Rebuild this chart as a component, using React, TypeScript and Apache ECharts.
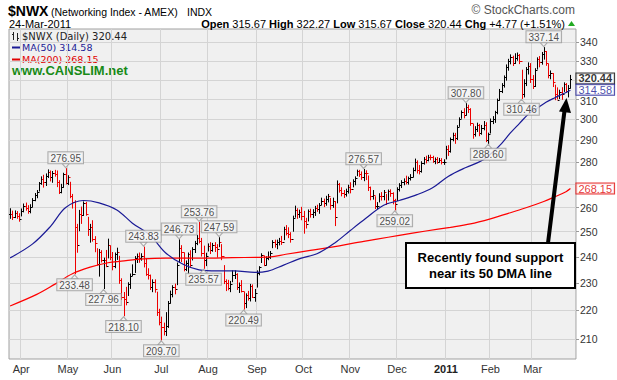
import React, { useEffect, useRef } from "react";
import * as echarts from "echarts";

// ---- data ----
const closes = [
  257.5, 256.0, 257.8, 256.6, 255.2, 258.5, 260.8, 259.9, 258.6, 260.4,
  263.2, 265.2, 266.5, 270.4, 272.5, 271.0, 273.8, 275.6, 273.4, 275.2,
  274.6, 271.0, 266.6, 268.9, 274.4, 270.6, 273.2, 265.0, 262.5, 252.0,
  244.5, 257.4, 257.0, 262.0, 257.5, 251.0, 251.9, 247.0, 245.4, 237.3,
  241.8, 238.7, 238.9, 236.6, 244.8, 240.0, 236.4, 241.0, 242.0, 231.0,
  224.8, 224.2, 222.9, 229.6, 232.8, 233.4, 239.7, 240.3, 239.5, 240.5,
  237.6, 233.4, 233.2, 228.4, 230.3, 227.6, 219.3, 215.9, 214.2, 212.9,
  214.5, 222.8, 226.1, 228.5, 227.6, 236.9, 243.6, 241.9, 235.2, 237.5,
  241.0, 236.8, 243.0, 245.4, 247.4, 246.2, 241.6, 238.9, 240.3, 244.4,
  242.8, 244.7, 244.0, 243.1, 245.8, 240.4, 230.8, 230.0, 228.3, 229.8,
  232.9, 233.4, 228.7, 229.4, 227.2, 222.6, 225.5, 224.3, 228.9, 225.0,
  226.4, 233.8, 235.9, 240.6, 237.0, 239.4, 239.8, 241.6, 245.8, 244.9,
  245.8, 246.4, 245.9, 251.2, 249.6, 248.9, 247.0, 255.8, 258.9, 257.4,
  258.1, 256.5, 254.2, 253.3, 258.6, 257.2, 258.0, 259.9, 259.3, 261.2,
  262.8, 261.9, 263.8, 264.9, 261.0, 262.8, 256.2, 270.0, 267.4, 266.2,
  265.8, 266.9, 268.8, 268.0, 271.4, 272.6, 275.9, 274.7, 273.4, 275.2,
  275.0, 268.7, 264.8, 265.3, 260.5, 260.8, 265.1, 264.9, 266.8, 262.0,
  266.9, 266.1, 263.4, 261.5, 267.9, 269.6, 270.9, 271.4, 270.9, 272.8,
  273.4, 276.5, 280.1, 276.5, 275.7, 279.6, 281.5, 280.9, 282.4, 282.1,
  280.6, 281.2, 280.2, 281.0, 279.8, 280.1, 286.0, 285.2, 290.4, 292.6,
  291.2, 296.5, 300.0, 303.6, 302.4, 306.2, 305.0, 298.4, 293.0, 295.3,
  297.2, 293.4, 296.0, 297.4, 290.0, 292.8, 299.5, 300.3, 303.5, 309.6,
  314.0, 317.3, 321.2, 326.8, 330.0, 332.0, 329.0, 331.4, 333.0, 329.9,
  312.6, 318.4, 325.5, 327.4, 320.4, 317.0, 325.0, 331.0, 329.2, 333.8,
  335.3, 329.0, 322.5, 323.6, 318.8, 312.6, 309.7, 313.8, 312.7, 317.6,
  314.4, 315.67, 320.44,
];
const highs = [
  259.5, 258.5, 258.6, 258.3, 257.4, 259.4, 261.5, 261.9, 260.8, 261.2,
  263.8, 266.0, 267.3, 270.8, 273.3, 274.0, 274.6, 276.4, 275.9, 275.7,
  276.2, 275.9, 271.6, 270.0, 274.9, 276.95, 273.8, 270.9, 265.6, 262.9,
  253.0, 258.8, 260.2, 262.4, 262.2, 255.9, 253.0, 254.5, 248.0, 243.2,
  242.9, 242.4, 239.5, 242.5, 247.0, 244.3, 241.7, 241.5, 243.4, 240.2,
  231.6, 226.5, 228.4, 230.1, 233.4, 236.9, 240.1, 241.1, 241.5, 241.2,
  243.83, 239.2, 235.4, 233.0, 231.2, 231.2, 226.6, 220.4, 217.6, 215.5,
  219.2, 223.2, 227.0, 229.0, 229.6, 237.6, 246.73, 244.4, 241.5, 238.4,
  241.5, 242.4, 243.6, 246.1, 248.5, 253.76, 247.3, 244.2, 241.4, 245.1,
  245.6, 245.3, 245.6, 244.8, 247.59, 244.8, 236.6, 231.2, 231.0, 230.6,
  234.6, 234.6, 233.5, 230.0, 230.9, 226.6, 226.0, 226.9, 229.5, 229.3,
  227.6, 234.6, 236.2, 241.2, 240.2, 240.0, 241.9, 242.1, 246.4, 246.6,
  246.6, 247.3, 248.1, 251.8, 252.5, 251.6, 249.6, 256.4, 260.6, 259.5,
  258.9, 260.1, 258.4, 255.5, 259.0, 259.3, 259.1, 260.5, 261.0, 261.7,
  264.0, 263.6, 264.8, 265.6, 263.9, 264.0, 262.5, 271.5, 270.4, 268.5,
  267.3, 267.9, 269.6, 270.7, 272.0, 273.3, 276.3, 276.2, 275.5, 276.57,
  276.0, 273.7, 268.8, 267.3, 264.6, 262.1, 265.9, 266.4, 267.3, 265.6,
  267.5, 267.6, 266.3, 263.5, 268.5, 270.3, 271.6, 272.4, 273.6, 273.2,
  274.3, 277.2, 281.3, 280.5, 278.4, 280.1, 282.0, 282.6, 283.0, 283.1,
  282.6, 281.8, 282.0, 281.6, 281.5, 281.0, 287.2, 287.5, 291.1, 293.4,
  293.3, 297.0, 300.8, 304.2, 305.3, 307.8, 307.0, 305.3, 297.6, 296.5,
  298.2, 297.6, 297.1, 299.0, 298.4, 293.4, 300.2, 301.4, 304.0, 310.1,
  315.0, 318.0, 322.0, 327.8, 330.8, 333.2, 332.5, 333.8, 334.2, 333.4,
  325.0, 320.0, 326.4, 328.9, 328.5, 322.2, 325.8, 331.6, 332.3, 334.5,
  337.14, 335.0, 328.3, 324.6, 323.2, 317.2, 315.8, 314.6, 315.9, 318.4,
  318.0, 317.0, 322.27,
];
const lows = [
  255.5, 255.0, 255.8, 255.5, 254.3, 256.5, 258.2, 258.9, 257.6, 257.8,
  260.3, 262.9, 264.2, 267.1, 270.0, 268.8, 269.5, 273.0, 271.5, 270.9,
  273.6, 269.0, 266.0, 266.3, 268.7, 270.2, 269.9, 264.2, 259.8, 233.48,
  241.8, 250.4, 253.4, 256.7, 256.8, 248.5, 245.8, 246.2, 242.0, 236.8,
  232.6, 238.0, 227.96, 236.2, 239.6, 238.9, 235.0, 235.8, 239.0, 229.9,
  224.0, 218.1, 222.0, 225.4, 228.0, 232.8, 234.0, 237.8, 237.9, 238.7,
  236.1, 232.9, 231.5, 227.6, 226.8, 226.6, 218.2, 214.9, 209.7, 211.4,
  211.2, 214.0, 222.6, 224.9, 226.0, 229.4, 237.8, 238.2, 234.6, 234.7,
  233.4, 236.3, 238.8, 241.7, 244.8, 245.5, 240.3, 235.57, 236.6, 242.3,
  241.3, 242.2, 242.1, 239.9, 244.0, 238.9, 229.8, 227.2, 227.5, 226.8,
  230.5, 231.7, 227.6, 226.5, 226.7, 220.49, 221.0, 223.7, 223.4, 224.7,
  223.3, 228.5, 233.1, 237.8, 236.6, 236.8, 238.9, 239.4, 243.6, 243.8,
  243.2, 244.7, 244.9, 246.8, 248.7, 247.6, 245.8, 250.2, 256.0, 255.5,
  255.9, 254.9, 249.4, 251.5, 254.4, 256.0, 255.8, 256.7, 258.4, 257.6,
  261.2, 260.4, 261.0, 262.4, 259.3, 260.1, 252.5, 262.0, 266.6, 265.0,
  264.3, 264.9, 266.2, 266.3, 268.9, 269.8, 273.8, 273.5, 272.2, 271.6,
  272.1, 267.3, 263.3, 263.6, 259.6, 259.4, 262.4, 263.2, 263.3, 261.3,
  263.2, 264.8, 261.6, 259.02, 263.0, 267.1, 268.6, 269.8, 270.2, 270.1,
  271.9, 273.3, 276.0, 275.0, 274.6, 275.4, 279.0, 279.6, 280.5, 281.0,
  279.8, 279.2, 279.4, 279.9, 279.1, 278.9, 281.4, 283.0, 284.5, 289.8,
  288.6, 290.4, 296.7, 300.6, 300.8, 302.1, 303.4, 297.2, 291.0, 292.0,
  294.2, 292.2, 292.9, 295.0, 289.4, 288.6, 293.5, 298.0, 298.6, 302.8,
  309.5, 313.4, 316.2, 319.8, 325.0, 328.4, 327.5, 328.6, 330.3, 328.5,
  310.46, 311.2, 317.0, 323.0, 318.6, 315.5, 316.5, 325.6, 326.8, 328.2,
  330.9, 327.6, 321.0, 320.5, 316.5, 309.8, 310.2, 310.4, 310.0, 314.0,
  313.6, 311.2, 315.67,
];

const ma50Idx = [0, 10, 18, 25, 33, 40, 48, 55, 63, 70, 78, 85, 93, 101, 110, 116, 123, 131, 138, 146, 153, 160, 168, 175, 183, 190, 197, 205, 212, 217, 221, 225, 229, 233, 237, 241, 245, 249, 252];
const ma50Val = [239.6, 245, 252, 260, 263, 262, 259, 253.5, 248.5, 241.5, 237, 235, 234.6, 234.6, 234, 234.5, 236.8, 239.5, 241.2, 245.5, 250.5, 255.5, 261, 263, 265.5, 268.5, 273.5, 277.5, 280.5, 284.5, 288.5, 293.5, 298, 302.5, 305.5, 308.5, 310.8, 312.9, 314.58];

const ma200Idx = [0, 12, 20, 28, 36, 44, 50, 60, 70, 85, 100, 117, 124, 135, 146, 155, 165, 175, 187, 198, 207, 216, 225, 232, 240, 244, 250, 252];
const ma200Val = [221.6, 225.8, 229.5, 233.5, 236, 237.7, 238.3, 239.2, 239.5, 239.5, 239.7, 240, 241, 242.5, 244, 245.5, 247, 248.5, 250.3, 251.8, 253.2, 255.3, 257.8, 259.9, 262.6, 264.2, 266.8, 268.15];

const peakIdx = [25, 60, 76, 85, 94, 159, 205, 240];
const peakVal = [276.95, 243.83, 246.73, 253.76, 247.59, 276.57, 307.8, 337.14];
const troughIdx = [29, 42, 51, 68, 87, 105, 173, 215, 230];
const troughVal = [233.48, 227.96, 218.1, 209.7, 235.57, 220.49, 259.02, 288.6, 310.46];

const yTicks = [210, 220, 230, 240, 250, 260, 270, 280, 290, 300, 310, 320, 330, 340];
const yLabelTicks = [210, 220, 230, 240, 250, 260, 280, 290, 300, 310, 330, 340];
const yMin = 203.3;
const yMax = 347.5;

const lastClose = 320.44;
const lastMA50 = 314.58;
const lastMA200 = 268.15;

const monthNames = ["Jan", "Feb", "Mar", "Apr", "May", "Jun", "Jul", "Aug", "Sep", "Oct", "Nov", "Dec"];
const holidays = ["2010-04-02", "2010-05-31", "2010-07-05", "2010-09-06", "2010-11-25", "2010-12-24", "2011-01-17", "2011-02-21"];
const firstDay = "2010-03-25";
const lastDay = "2011-03-24";

function buildDates(): string[] {
  const out: string[] = [];
  const d = new Date(firstDay + "T00:00:00Z");
  const end = new Date(lastDay + "T00:00:00Z").getTime();
  while (d.getTime() <= end) {
    const wd = d.getUTCDay();
    const s = d.toISOString().slice(0, 10);
    if (wd !== 0 && wd !== 6 && holidays.indexOf(s) < 0) out.push(s);
    d.setUTCDate(d.getUTCDate() + 1);
  }
  return out;
}

const NARROW = "'Liberation Sans Narrow','Arial Narrow','Liberation Sans',Arial,sans-serif";
const ARIAL = "'Liberation Sans',Arial,sans-serif";
const VERDANA = "'DejaVu Sans',Verdana,sans-serif";

export default function App() {
  const ref = useRef<HTMLDivElement>(null);
  useEffect(() => {
    if (!ref.current) return;
    const chart = echarts.init(ref.current, undefined, { renderer: "svg" });
    const dates = buildDates();
    const cats = dates.concat(["pad1", "pad2"]);
    const monthStart = new Set<number>();
    for (let i = 1; i < dates.length; i++) {
      if (dates[i].slice(5, 7) !== dates[i - 1].slice(5, 7)) monthStart.add(i);
    }
    const L = Math.log;
    const ohlc = closes.map((c, i) => {
      const o = i === 0 ? c : closes[i - 1];
      const up = i === 0 || c >= closes[i - 1] ? 1 : 0;
      return [i, L(o), L(highs[i]), L(lows[i]), L(c), up];
    });

    const boxLabel = {
      show: true,
      fontFamily: NARROW,
      fontSize: 10,
      color: "#222",
      backgroundColor: "#f5f5f5",
      borderColor: "#9a9a9a",
      borderWidth: 1,
      padding: [1, 2, 0, 2],
      lineHeight: 10,
      formatter: (p: any) => p.data[2].toFixed(2),
    };

    const option: any = {
      animation: false,
      backgroundColor: "#ffffff",
      grid: {
        left: 9,
        top: 29,
        width: 567,
        height: 330,
        show: true,
        backgroundColor: "#f0f0f0",
        borderColor: "#a0a0a0",
        borderWidth: 1,
      },
      xAxis: {
        type: "category",
        data: cats,
        boundaryGap: true,
        axisLine: { show: false },
        axisTick: { show: false },
        axisLabel: {
          interval: (i: number) => monthStart.has(i),
          margin: 4,
          fontFamily: NARROW,
          fontSize: 11,
          color: "#333",
          formatter: (v: string) => {
            const m = parseInt(v.slice(5, 7), 10) - 1;
            if (m === 0) return "{y|" + v.slice(0, 4) + "}";
            return monthNames[m];
          },
          rich: { y: { fontWeight: "bold", fontFamily: ARIAL, fontSize: 11, color: "#222" } },
        },
        splitLine: {
          show: true,
          interval: (i: number) => monthStart.has(i),
          lineStyle: { color: "#d4d4d4", width: 1 },
        },
      },
      yAxis: {
        type: "value",
        position: "right",
        min: L(yMin),
        max: L(yMax),
        axisLine: { show: false },
        axisTick: {
          show: true,
          length: 3,
          customValues: yTicks.map(L),
          lineStyle: { color: "#999" },
        },
        axisLabel: {
          customValues: yLabelTicks.map(L),
          margin: 4,
          fontFamily: NARROW,
          fontSize: 10.5,
          lineHeight: 9,
          color: "#333",
          formatter: (v: number) => {
            const n = Math.round(Math.exp(v));
            return n === 310 ? "{d|310}" : String(n);
          },
          rich: { d: { fontFamily: NARROW, fontSize: 10.5, lineHeight: 9, color: "#333", padding: [4, 0, 0, 0] } },
        },
        splitLine: { show: true, lineStyle: { color: "#d4d4d4", width: 1 } },
      },
      series: [
        {
          type: "custom",
          name: "NWX",
          data: ohlc,
          encode: { x: 0, y: [1, 2, 3, 4] },
          clip: true,
          renderItem: (_params: any, api: any) => {
            const i = api.value(0);
            const o = api.coord([i, api.value(1)]);
            const h = api.coord([i, api.value(2)]);
            const l = api.coord([i, api.value(3)]);
            const c = api.coord([i, api.value(4)]);
            const color = api.value(5) === 1 ? "#000000" : "#ee0000";
            const x = Math.round(h[0]) + 0.5;
            const oy = Math.round(o[1]) + 0.5;
            const cy = Math.round(c[1]) + 0.5;
            const st = { stroke: color, lineWidth: 1 };
            return {
              type: "group",
              children: [
                { type: "line", shape: { x1: x, y1: h[1] - 0.5, x2: x, y2: l[1] + 0.5 }, style: st },
                { type: "line", shape: { x1: x - 1.5, y1: oy, x2: x, y2: oy }, style: st },
                { type: "line", shape: { x1: x, y1: cy, x2: x + 1.5, y2: cy }, style: st },
              ],
            };
          },
          z: 2,
        },
        {
          type: "line",
          name: "MA(200)",
          data: ma200Idx.map((x, k) => [x, L(ma200Val[k])]),
          smooth: 0.35,
          showSymbol: false,
          lineStyle: { color: "#ff0000", width: 1.2 },
          z: 3,
        },
        {
          type: "line",
          name: "MA(50)",
          data: ma50Idx.map((x, k) => [x, L(ma50Val[k])]),
          smooth: 0.35,
          showSymbol: false,
          lineStyle: { color: "#1a1a96", width: 1.2 },
          z: 3,
        },
        {
          type: "scatter",
          name: "peaks",
          data: peakIdx.map((x, k) => [x, L(peakVal[k]), peakVal[k]]),
          symbol: "path://M0,0L10,0L5,6Z",
          symbolSize: [7, 4],
          symbolOffset: [0, -3],
          itemStyle: { color: "#f5f5f5", borderColor: "#9a9a9a", borderWidth: 1 },
          label: { ...boxLabel, position: "top", distance: 0 },
          z: 5,
        },
        {
          type: "scatter",
          name: "troughs",
          data: troughIdx.map((x, k) => [x, L(troughVal[k]), troughVal[k]]),
          symbol: "path://M5,0L10,6L0,6Z",
          symbolSize: [7, 4],
          symbolOffset: [0, 3],
          itemStyle: { color: "#f5f5f5", borderColor: "#9a9a9a", borderWidth: 1 },
          label: { ...boxLabel, position: "bottom", distance: 0 },
          z: 5,
        },
        {
          type: "scatter",
          name: "last",
          symbolSize: 0,
          data: [
            {
              value: [closes.length - 1, L(lastClose), lastClose],
              label: { color: "#000", fontWeight: "bold", borderColor: "#000", offset: [0, -0.5] },
            },
            {
              value: [ma50Idx[ma50Idx.length - 1], L(lastMA50), lastMA50],
              label: { color: "#1a1a96", borderColor: "#1a1a96", offset: [0, -0.5] },
            },
            {
              value: [ma200Idx[ma200Idx.length - 1], L(lastMA200), lastMA200],
              label: { color: "#e00000", borderColor: "#e00000" },
            },
          ],
          label: {
            show: true,
            position: "right",
            distance: 6,
            fontFamily: ARIAL,
            fontSize: 11,
            backgroundColor: "#ffffff",
            borderWidth: 1,
            padding: [0, 2, 0, 2],
            lineHeight: 10,
            formatter: (p: any) => p.data.value[2].toFixed(2),
          },
          z: 6,
        },
      ],
      graphic: [
        { type: "text", left: 8, top: 4, style: { text: "$NWX", fontFamily: ARIAL, fontWeight: "bold", fontSize: 14, fill: "#000" } },
        { type: "text", left: 51, top: 6, style: { text: "(Networking Index - AMEX)", fontFamily: ARIAL, fontSize: 10.5, fill: "#000" } },
        { type: "text", left: 187, top: 6, style: { text: "INDX", fontFamily: ARIAL, fontSize: 10.5, fill: "#000" } },
        { type: "text", left: 9, top: 18, style: { text: "24-Mar-2011", fontFamily: ARIAL, fontSize: 11, fill: "#000" } },
        {
          type: "text",
          right: 52,
          top: 18,
          style: {
            text: "{b|Open} 315.67 {b|High} 322.27 {b|Low} 315.67 {b|Close} 320.44 {b|Chg} +4.77 (+1.51%)",
            fontFamily: ARIAL,
            fontSize: 11,
            fill: "#000",
            rich: { b: { fontWeight: "bold", fontFamily: ARIAL, fontSize: 11 } },
          },
        },
        { type: "polygon", shape: { points: [[568, 26], [575, 26], [571.5, 21]] }, style: { fill: "#22aa22" } },
        { type: "text", right: 42, top: 4, style: { text: "© StockCharts.com", fontFamily: NARROW, fontSize: 12, fill: "#555" } },
        // legend
        { type: "line", shape: { x1: 13.5, y1: 32, x2: 13.5, y2: 40 }, style: { stroke: "#222", lineWidth: 1 } },
        { type: "line", shape: { x1: 12, y1: 34.5, x2: 13.5, y2: 34.5 }, style: { stroke: "#222", lineWidth: 1 } },
        { type: "line", shape: { x1: 17.5, y1: 33, x2: 17.5, y2: 41 }, style: { stroke: "#222", lineWidth: 1 } },
        { type: "line", shape: { x1: 17.5, y1: 38.5, x2: 19, y2: 38.5 }, style: { stroke: "#222", lineWidth: 1 } },
        { type: "text", left: 22, top: 31, style: { text: "$NWX (Daily) 320.44", fontFamily: VERDANA, fontSize: 10, fill: "#222" } },
        { type: "line", shape: { x1: 12, y1: 47.5, x2: 21, y2: 47.5 }, style: { stroke: "#1a1a96", lineWidth: 2 } },
        { type: "text", left: 22, top: 42, style: { text: "MA(50) 314.58", fontFamily: VERDANA, fontSize: 9.5, fill: "#1a1a96" } },
        { type: "line", shape: { x1: 12, y1: 59.5, x2: 21, y2: 59.5 }, style: { stroke: "#e00000", lineWidth: 2 } },
        { type: "text", left: 22, top: 54, style: { text: "MA(200) 268.15", fontFamily: VERDANA, fontSize: 9.5, fill: "#e00000" } },
        { type: "text", left: 12, top: 64, style: { text: "www.CANSLIM.net", fontFamily: ARIAL, fontWeight: "bold", fontSize: 13, fill: "#178a17" } },
        // annotation
        { type: "line", shape: { x1: 548, y1: 243, x2: 564.6, y2: 110 }, style: { stroke: "#000", lineWidth: 4 }, z: 10 },
        { type: "polygon", shape: { points: [[566.5, 98], [571, 113], [559, 111.5]] }, style: { fill: "#000" }, z: 10 },
        { type: "rect", shape: { x: 406, y: 243, width: 169, height: 45 }, style: { fill: "#fff", stroke: "#000", lineWidth: 2 }, z: 10 },
        { type: "text", x: 490.5, y: 257, style: { text: "Recently found support", fontFamily: ARIAL, fontWeight: "bold", fontSize: 13, fill: "#000", align: "center", verticalAlign: "middle" }, z: 11 },
        { type: "text", x: 490.5, y: 273, style: { text: "near its 50 DMA line", fontFamily: ARIAL, fontWeight: "bold", fontSize: 13, fill: "#000", align: "center", verticalAlign: "middle" }, z: 11 },
      ],
    };
    chart.setOption(option);
    return () => chart.dispose();
  }, []);
  return <div ref={ref} style={{ position: "fixed", left: 0, top: 0, width: 617, height: 380, background: "#fff" }} />;
}
